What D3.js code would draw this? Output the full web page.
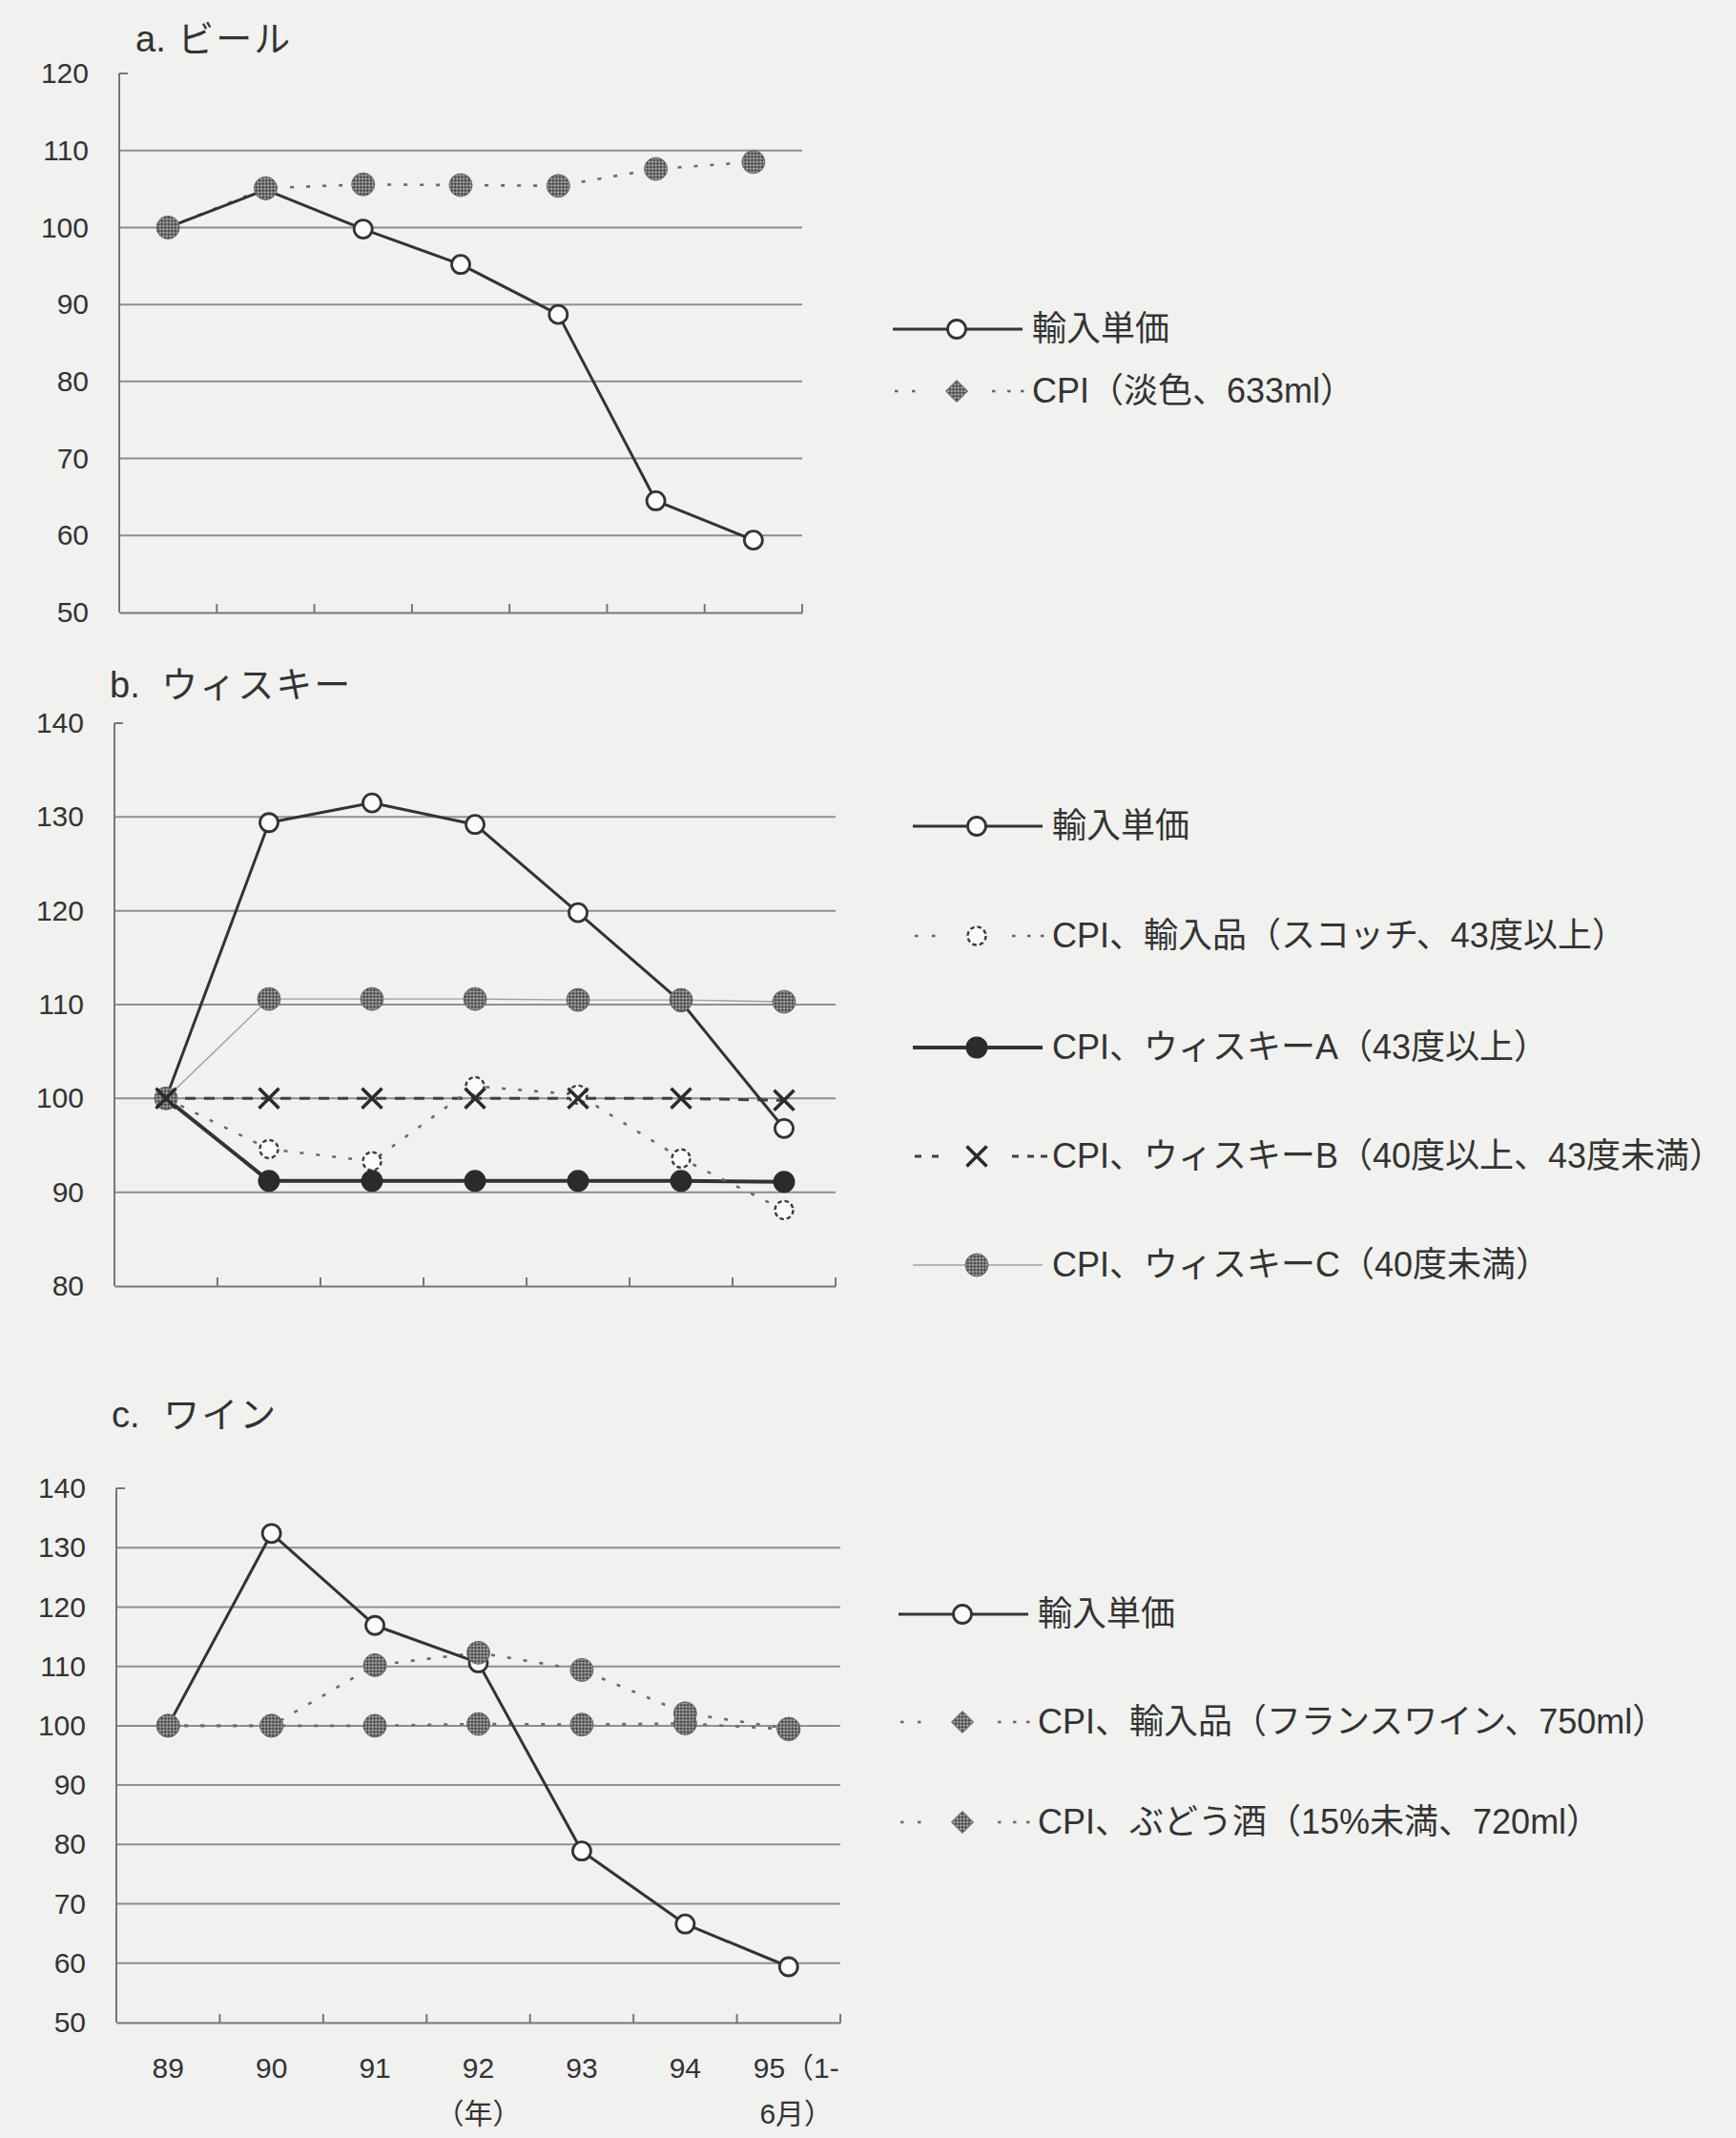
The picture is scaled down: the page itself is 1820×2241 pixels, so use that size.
<!DOCTYPE html>
<html>
<head>
<meta charset="utf-8">
<script src="https://cdn.jsdelivr.net/npm/d3@7"></script>
<style>
  html, body { margin: 0; padding: 0; background: #f1f1ef; }
  svg { display: block; }
  text { font-family: "Liberation Sans", "Noto Sans CJK JP", sans-serif; fill: #333; }
</style>
</head>
<body>
<svg id="chart" width="1820" height="2241"></svg>
<script>
// ---- data ----
const years = ["89", "90", "91", "92", "93", "94", "95"];
const xTickLine1 = ["89", "90", "91", "92", "93", "94", "95（1-"];
const xTickLine2 = ["", "", "", "（年）", "", "", "6月）"];

// a. ビール
const beerImport = [100, 104.9, 99.8, 95.2, 88.7, 64.5, 59.4];
const beerCPI    = [100, 105.1, 105.6, 105.5, 105.4, 107.6, 108.5];
const beerTicks  = [50, 60, 70, 80, 90, 100, 110, 120];

// b. ウィスキー
const whiskyImport = [100, 129.4, 131.5, 129.2, 119.8, 110.3, 96.8];
const whiskyScotch = [100, 94.6, 93.3, 101.3, 100.4, 93.6, 88.1];
const whiskyA      = [100, 91.2, 91.2, 91.2, 91.2, 91.2, 91.1];
const whiskyB      = [100, 100, 100, 100, 100, 100, 99.8];
const whiskyC      = [100, 110.6, 110.6, 110.6, 110.5, 110.5, 110.3];
const whiskyTicks  = [80, 90, 100, 110, 120, 130, 140];

// c. ワイン
const wineImport = [100, 132.4, 116.9, 110.6, 78.9, 66.6, 59.4];
const wineFrance = [100, 100, 110.2, 112.3, 109.4, 102.1, 99.5];
const wineGrape  = [100, 100, 100, 100.3, 100.2, 100.4, 99.4];
const wineTicks  = [50, 60, 70, 80, 90, 100, 110, 120, 130, 140];

const titleA = ["a.", "ビール"];
const titleB = ["b.", "ウィスキー"];
const titleC = ["c.", "ワイン"];

const legendA = ["輸入単価", "CPI（淡色、633ml）"];
const legendB = ["輸入単価", "CPI、輸入品（スコッチ、43度以上）", "CPI、ウィスキーA（43度以上）",
                 "CPI、ウィスキーB（40度以上、43度未満）", "CPI、ウィスキーC（40度未満）"];
const legendC = ["輸入単価", "CPI、輸入品（フランスワイン、750ml）", "CPI、ぶどう酒（15%未満、720ml）"];

// ---- styles ----
const INK = "#333";
const GRID = "#8e8e8e";
const BG = "#f1f1ef";

const styles = {
  importS: { stroke: INK, width: 3, dash: null, marker: "open" },
  cpiDot:  { stroke: "#6a6a6a", width: 2.6, dash: "4,13", marker: "hatch" },
  scotch:  { stroke: "#6a6a6a", width: 2.6, dash: "4,13", marker: "dotted" },
  wA:      { stroke: INK, width: 4, dash: null, marker: "filled" },
  wB:      { stroke: "#404040", width: 3, dash: "11,9", marker: "cross" },
  wC:      { stroke: "#a0a0a0", width: 1.4, dash: null, marker: "hatch" }
};

const svg = d3.select("#chart");
svg.append("rect").attr("width", 1820).attr("height", 2241).attr("fill", BG);

// crosshatch fill used by the CPI markers
const defs = svg.append("defs");
const pat = defs.append("pattern").attr("id", "hatch")
  .attr("width", 5).attr("height", 5)
  .attr("patternUnits", "userSpaceOnUse")
  .attr("patternTransform", "rotate(45)");
pat.append("rect").attr("width", 5).attr("height", 5).attr("fill", "#a6a6a6");
pat.append("rect").attr("width", 2.5).attr("height", 2.5).attr("fill", "#414141");
pat.append("rect").attr("x", 2.5).attr("y", 2.5).attr("width", 2.5).attr("height", 2.5).attr("fill", "#414141");

function drawMarker(g, kind, cx, cy) {
  if (kind === "open") {
    g.append("circle").attr("cx", cx).attr("cy", cy).attr("r", 9.5)
      .attr("fill", "#fbfbfa").attr("stroke", INK).attr("stroke-width", 2.8);
  } else if (kind === "hatch") {
    g.append("circle").attr("cx", cx).attr("cy", cy).attr("r", 12)
      .attr("fill", "url(#hatch)").attr("stroke", "#6a6a6a").attr("stroke-width", 1);
  } else if (kind === "hatchDiamond") {
    g.append("path").attr("d", d3.symbol(d3.symbolDiamond2, 340)())
      .attr("transform", `translate(${cx},${cy})`)
      .attr("fill", "url(#hatch)").attr("stroke", "#6a6a6a").attr("stroke-width", 1);
  } else if (kind === "dotted") {
    g.append("circle").attr("cx", cx).attr("cy", cy).attr("r", 9.5)
      .attr("fill", "#fbfbfa").attr("stroke", "#3a3a3a").attr("stroke-width", 2.4)
      .attr("stroke-dasharray", "4.5,3");
  } else if (kind === "filled") {
    g.append("circle").attr("cx", cx).attr("cy", cy).attr("r", 11.5).attr("fill", "#2b2b2b");
  } else if (kind === "cross") {
    const s = 10.5;
    g.append("path")
      .attr("d", `M${cx - s},${cy - s}L${cx + s},${cy + s}M${cx - s},${cy + s}L${cx + s},${cy - s}`)
      .attr("stroke", "#2b2b2b").attr("stroke-width", 3.6).attr("fill", "none");
  }
}

function panel(cfg) {
  const g = svg.append("g");
  const x = d3.scaleBand().domain(years).range([cfg.left, cfg.right]).padding(0);
  const y = d3.scaleLinear().domain(cfg.domain).range([cfg.bottom, cfg.top]);
  const cx = d => x(d) + x.bandwidth() / 2;

  // title: letter prefix, then the kana name
  const t = g.append("text").attr("x", cfg.titleX).attr("y", cfg.titleY).attr("font-size", 38);
  t.append("tspan").text(cfg.title[0] + " ");
  t.append("tspan").attr("dx", cfg.titleGap).attr("letter-spacing", 2).text(cfg.title[1]);

  // horizontal gridlines between the bottom axis and the top value
  const inner = cfg.ticks.filter(v => v !== cfg.domain[0] && v !== cfg.domain[1]);
  g.selectAll(".grid").data(inner).join("line")
    .attr("x1", cfg.left).attr("x2", cfg.right)
    .attr("y1", d => y(d)).attr("y2", d => y(d))
    .attr("stroke", GRID).attr("stroke-width", 2);

  // y axis: labels only, line and top tick drawn separately
  const ya = g.append("g").attr("transform", `translate(${cfg.left},0)`)
    .call(d3.axisLeft(y).tickValues(cfg.ticks).tickSize(0).tickPadding(32));
  ya.select(".domain").remove();
  ya.selectAll("text").attr("font-size", 30).attr("fill", "#333")
    .attr("font-family", "Liberation Sans, sans-serif");
  g.append("line").attr("x1", cfg.left).attr("x2", cfg.left)
    .attr("y1", y(cfg.domain[1])).attr("y2", y(cfg.domain[0]))
    .attr("stroke", "#777").attr("stroke-width", 2);
  g.append("line").attr("x1", cfg.left).attr("x2", cfg.left + 9)
    .attr("y1", y(cfg.domain[1])).attr("y2", y(cfg.domain[1]))
    .attr("stroke", "#777").attr("stroke-width", 2);

  // x axis with inward ticks on the category boundaries
  const xa = g.append("g").attr("transform", `translate(0,${cfg.bottom})`)
    .call(d3.axisBottom(x).tickSize(0).tickFormat(""));
  xa.select(".domain").attr("stroke", "#777").attr("stroke-width", 2);
  const bounds = years.slice(1).map(d => x(d)).concat([cfg.right]);
  g.selectAll(".xt").data(bounds).join("line")
    .attr("x1", d => d).attr("x2", d => d)
    .attr("y1", cfg.bottom).attr("y2", cfg.bottom - 9)
    .attr("stroke", "#777").attr("stroke-width", 2);

  if (cfg.xLabels) {
    g.selectAll(".xl1").data(years).join("text")
      .attr("x", (d, i) => cx(d) + (i === 6 ? 8 : 0)).attr("y", cfg.bottom + 58)
      .attr("text-anchor", "middle").attr("font-size", 30)
      .text((d, i) => xTickLine1[i]);
    g.selectAll(".xl2").data(years).join("text")
      .attr("x", (d, i) => cx(d) + (i === 6 ? 8 : 0)).attr("y", cfg.bottom + 106)
      .attr("text-anchor", "middle").attr("font-size", 30)
      .text((d, i) => xTickLine2[i]);
  }

  // series lines, then markers in the stacking order given
  const line = d3.line().x((v, i) => cx(years[i])).y(v => y(v));
  cfg.series.forEach(s => {
    const st = styles[s.style];
    g.append("path").datum(s.values).attr("d", line)
      .attr("fill", "none").attr("stroke", st.stroke).attr("stroke-width", st.width)
      .attr("stroke-dasharray", st.dash).attr("stroke-linejoin", "round");
  });
  cfg.markerOrder.forEach(k => {
    const s = cfg.series[k];
    const st = styles[s.style];
    s.values.forEach((v, i) => drawMarker(g, st.marker, cx(years[i]), y(v)));
  });

  // legend
  cfg.series.slice().sort((a, b) => a.order - b.order).forEach((s, i) => {
    const st = styles[s.style];
    const ly = cfg.legendY[i];
    const lx = cfg.legendX;
    const lg = g.append("g");
    if (st.dash) {
      // dotted sample: short strokes on each side of the marker
      [2, 20, 104, 120, 134].forEach(o => {
        lg.append("line").attr("x1", lx + o).attr("x2", lx + o + (st.dash === "11,9" ? 7 : 3.5))
          .attr("y1", ly).attr("y2", ly).attr("stroke", st.stroke).attr("stroke-width", st.width);
      });
    } else {
      lg.append("line").attr("x1", lx).attr("x2", lx + 136).attr("y1", ly).attr("y2", ly)
        .attr("stroke", st.stroke).attr("stroke-width", st.width);
    }
    const mk = (st.marker === "hatch" && s.style === "cpiDot") ? "hatchDiamond" : st.marker;
    drawMarker(lg, mk, lx + 67, ly);
    lg.append("text").attr("x", lx + 146).attr("y", ly + 12)
      .attr("font-size", 36).text(s.label);
  });
}

panel({
  title: titleA, titleX: 142, titleY: 54, titleGap: 2,
  left: 125, right: 841, top: 77, bottom: 642,
  domain: [50, 120], ticks: beerTicks, xLabels: false,
  legendX: 936, legendY: [345, 410],
  series: [
    { values: beerCPI, style: "cpiDot", label: legendA[1], order: 1 },
    { values: beerImport, style: "importS", label: legendA[0], order: 0 }
  ],
  markerOrder: [1, 0]
});

panel({
  title: titleB, titleX: 115, titleY: 731, titleGap: 12,
  left: 120, right: 876, top: 758, bottom: 1348,
  domain: [80, 140], ticks: whiskyTicks, xLabels: false,
  legendX: 957, legendY: [866, 981, 1098, 1212, 1326],
  series: [
    { values: whiskyC, style: "wC", label: legendB[4], order: 4 },
    { values: whiskyB, style: "wB", label: legendB[3], order: 3 },
    { values: whiskyA, style: "wA", label: legendB[2], order: 2 },
    { values: whiskyScotch, style: "scotch", label: legendB[1], order: 1 },
    { values: whiskyImport, style: "importS", label: legendB[0], order: 0 }
  ],
  markerOrder: [4, 3, 2, 0, 1]
});

panel({
  title: titleC, titleX: 117, titleY: 1496, titleGap: 14,
  left: 122, right: 881, top: 1560, bottom: 2120,
  domain: [50, 140], ticks: wineTicks, xLabels: true,
  legendX: 942, legendY: [1692, 1805, 1910],
  series: [
    { values: wineGrape, style: "cpiDot", label: legendC[2], order: 2 },
    { values: wineFrance, style: "cpiDot", label: legendC[1], order: 1 },
    { values: wineImport, style: "importS", label: legendC[0], order: 0 }
  ],
  markerOrder: [2, 0, 1]
});
</script>
</body>
</html>
